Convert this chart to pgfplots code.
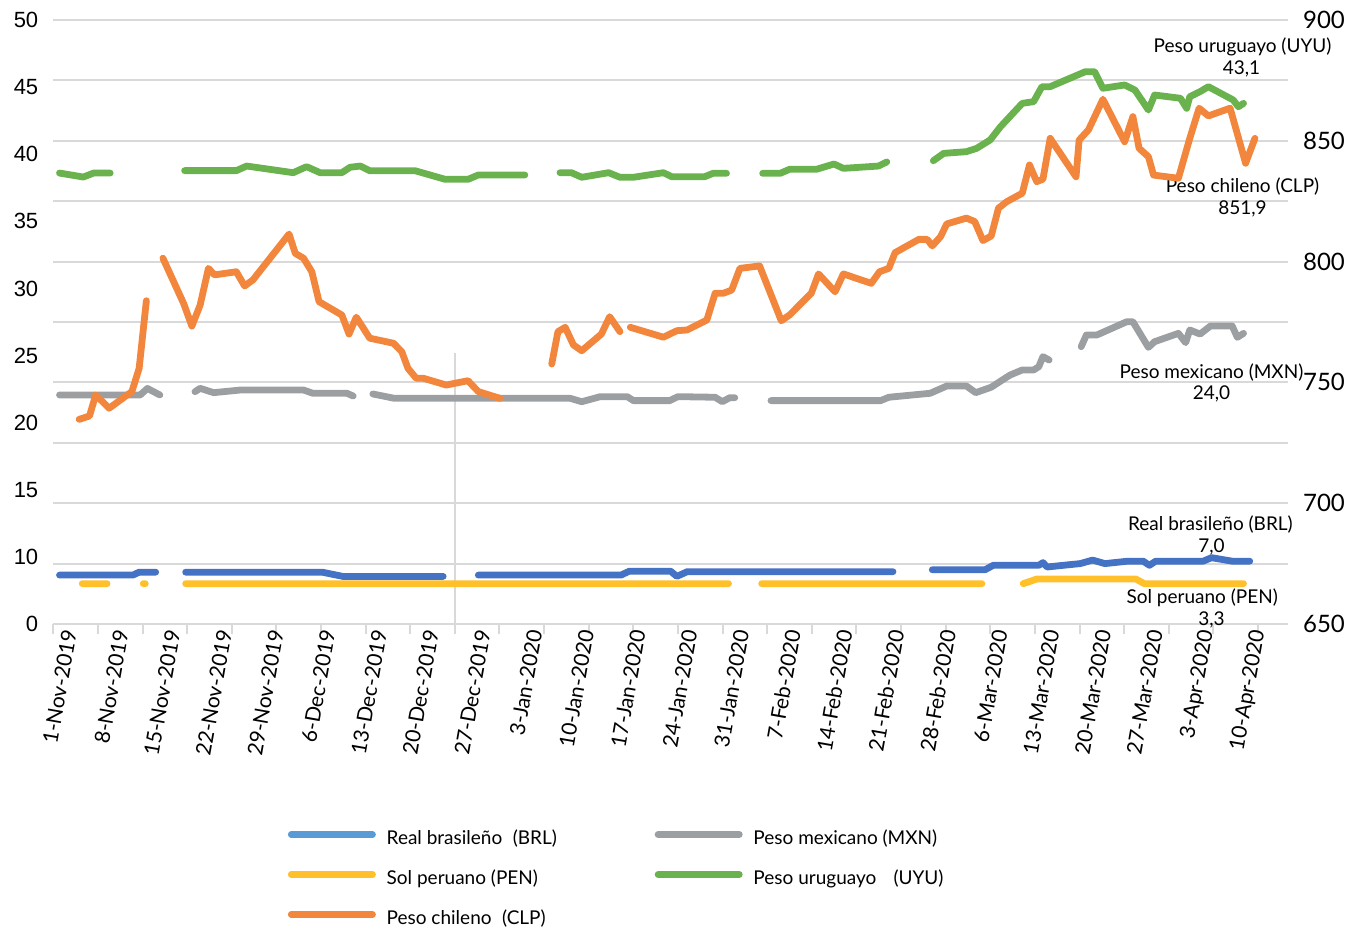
\documentclass[border=0pt]{standalone}
\usepackage{fontspec}
\setmainfont{Lato}
\newfontfamily\arialfont{Liberation Sans}
\usepackage{pgfplots}
\pgfplotsset{compat=1.18}
\definecolor{cBRL}{HTML}{4472C4}
\definecolor{cBRLleg}{HTML}{5B9BD5}
\definecolor{cPEN}{HTML}{FFC02A}
\definecolor{cCLP}{HTML}{F2863C}
\definecolor{cMXN}{HTML}{9C9FA2}
\definecolor{cUYU}{HTML}{6AB24E}
\definecolor{cGrid}{HTML}{D9D9D9}
\begin{document}
\begin{tikzpicture}
\path[use as bounding box] (0,0) rectangle (674.5pt,465.5pt);
\begin{axis}[
  at={(26.65pt,153.5pt)}, anchor=south west,
  width=617.35pt, height=302pt, scale only axis,
  xmin=-0.5, xmax=118.9, ymin=0, ymax=50,
  clip mode=individual,
  axis x line*=bottom, axis y line*=left,
  x axis line style={draw=cGrid, line width=1pt, -},
  y axis line style={draw=none},
  xtick={1,6,...,116},
  xticklabels={1-Nov-2019,8-Nov-2019,15-Nov-2019,22-Nov-2019,29-Nov-2019,6-Dec-2019,13-Dec-2019,20-Dec-2019,27-Dec-2019,3-Jan-2020,10-Jan-2020,17-Jan-2020,24-Jan-2020,31-Jan-2020,7-Feb-2020,14-Feb-2020,21-Feb-2020,28-Feb-2020,6-Mar-2020,13-Mar-2020,20-Mar-2020,27-Mar-2020,3-Apr-2020,10-Apr-2020},
  minor xtick={-0.5,3.815,8.130,12.444,16.759,21.074,25.389,29.704,34.019,38.333,42.648,46.963,51.278,55.593,59.907,64.222,68.537,72.852,77.167,81.481,85.796,90.111,94.426,98.741,103.056,107.370,111.685,116.0},
  major tick length=0pt, minor tick length=5pt, tick align=outside,
  every minor tick/.append style={draw=cGrid, line width=1pt},
  ytick={0,5.5556,11.1111,16.6667,22.2222,27.7778,33.3333,38.8889,44.4444,50},
  yticklabels={0,10,15,20,25,30,35,40,45,50},
  ytick style={draw=none},
  extra y ticks={0,5,10,15,20,25,30,35,40,45,50},
  extra y tick labels={},
  extra y tick style={grid=major},
  major grid style={draw=cGrid, line width=1pt},
  xticklabel style={font=\fontsize{10.5}{12}\selectfont, rotate=80, anchor=east, inner sep=1pt, yshift=-1pt, xshift=-2pt},
  yticklabel style={font=\arialfont\fontsize{11}{13}\selectfont, xshift=-4pt},
  unbounded coords=jump,
  every axis plot/.append style={line width=3.4pt, line cap=round, line join=round},
  legend columns=2,
  legend cell align=left,
  legend image code/.code={\draw[#1] (0pt,2.5pt) -- (40.6pt,2.5pt);},
  legend style={at={(0.19,-0.342)}, anchor=north west, draw=none, fill=none,
    inner sep=0pt, outer sep=0pt, row sep=11pt,
    font=\fontsize{9.5}{11}\selectfont,
    nodes={inner sep=0pt, text height=7pt, text depth=2pt},
    /tikz/every odd column/.append style={column sep=5.4pt},
    /tikz/every even column/.append style={column sep=4pt}},
]
% vertical reference line
\addplot[cGrid, line width=1pt, line cap=butt, forget plot] coordinates {(38.333,0) (38.333,22.4)};
% Sol peruano (PEN)
\addplot[cPEN, forget plot] coordinates {
(2.3,3.34) (4.7,3.34) (6,nan) (8.2,3.34) (8.4,3.34) (10,nan)
(12.3,3.34) (64.8,3.34) (66,nan) (68.0,3.34) (89.3,3.34) (91,nan)
(93.3,3.34) (94.6,3.72) (104.2,3.72) (105.0,3.34) (114.6,3.34)};
% Real brasileno (BRL)
\addplot[cBRL, forget plot] coordinates {
(0.1,4.05) (7.2,4.05) (7.8,4.29) (9.4,4.29) (11,nan)
(12.3,4.29) (25.5,4.29) (27.5,3.94) (37.2,3.94) (39,nan)
(40.6,4.05) (54.4,4.05) (55.2,4.37) (59.2,4.37) (59.8,3.94) (60.8,4.33) (80.7,4.33) (82,nan)
(84.5,4.49) (89.6,4.49) (90.4,4.86) (94.8,4.86) (95.2,5.08) (95.6,4.72) (98.8,5.0) (100.0,5.29)
(101.2,5.0) (103.4,5.2) (104.9,5.2) (105.5,4.86) (106.1,5.2) (110.7,5.2) (111.5,5.49) (113.5,5.2) (115.2,5.2)};
% Peso mexicano (MXN)
\addplot[cMXN, forget plot] coordinates {
(0.1,18.96) (4.5,18.96) (7.9,18.96) (8.6,19.5) (9.8,18.96) (11,nan)
(13.2,19.23) (13.7,19.51) (15.0,19.15) (17.6,19.37) (23.7,19.37) (24.6,19.1) (27.9,19.1) (28.5,18.87) (29.5,nan)
(30.4,19.04) (32.5,18.68) (49.5,18.68) (50.6,18.4) (52.4,18.82) (55.0,18.82) (55.6,18.49) (59.1,18.49)
(59.9,18.82) (63.5,18.77) (64.2,18.4) (64.9,18.73) (65.4,18.73) (67,nan)
(68.9,18.49) (79.5,18.49) (80.3,18.77) (84.3,19.1) (85.9,19.7) (87.8,19.7) (88.7,19.15) (90.2,19.6)
(92.0,20.6) (93.2,21.03) (94.3,21.03) (94.8,21.3) (95.2,22.13) (95.8,21.85) (97,nan)
(98.9,22.96) (99.4,23.92) (100.4,23.92) (103.3,25.02) (103.9,25.02) (105.4,22.9) (106.0,23.37)
(108.3,24.06) (109.0,23.29) (109.4,24.34) (110.4,24.0) (111.4,24.67) (113.5,24.67) (114.0,23.73) (114.6,24.06)};
% Peso uruguayo (UYU)
\addplot[cUYU, forget plot] coordinates {
(0.1,37.33) (2.4,37.0) (3.4,37.33) (5.0,37.33) (8,nan)
(12.2,37.53) (17.2,37.53) (18.2,37.91) (22.7,37.36) (24.0,37.86) (25.3,37.36) (27.4,37.36) (28.2,37.81)
(29.2,37.91) (30.1,37.52) (34.5,37.52) (37.4,36.81) (39.6,36.81) (40.6,37.17) (45.1,37.17) (46.5,nan)
(48.5,37.36) (49.6,37.36) (50.6,36.98) (53.2,37.36) (54.3,36.98) (55.6,36.98) (58.5,37.36) (59.3,37.03)
(62.5,37.03) (63.3,37.31) (64.6,37.31) (66,nan)
(68.1,37.31) (69.8,37.31) (70.7,37.64) (73.3,37.64) (75.0,38.08) (75.9,37.72) (79.3,37.91) (80.1,38.25) (82,nan)
(84.6,38.35) (85.6,38.96) (87.8,39.1) (88.8,39.38) (90.1,40.07) (91.1,41.17) (93.2,43.1) (94.3,43.24)
(95.1,44.48) (95.9,44.48) (99.3,45.72) (100.2,45.72) (101.0,44.35) (103.1,44.62) (104.1,44.2) (105.4,42.55)
(106.0,43.79) (108.5,43.52) (109.1,42.69) (109.4,43.65) (110.4,44.07) (111.2,44.48) (113.6,43.38) (114.1,42.82) (114.6,43.1)};
% legend
\addlegendimage{cBRLleg, line width=3.4pt, line cap=round}
\addlegendentry{\makebox[130pt][l]{Real brasileño\hspace{0.55em}(BRL)}}
\addlegendimage{cMXN, line width=3.4pt, line cap=round}
\addlegendentry{Peso mexicano (MXN)}
\addlegendimage{cPEN, line width=3.4pt, line cap=round}
\addlegendentry{\makebox[130pt][l]{Sol peruano (PEN)}}
\addlegendimage{cUYU, line width=3.4pt, line cap=round}
\addlegendentry{Peso uruguayo\hspace{0.9em}(UYU)}
\addlegendimage{cCLP, line width=3.4pt, line cap=round}
\addlegendentry{\makebox[130pt][l]{Peso chileno\hspace{0.55em}(CLP)}}
% annotations
\begin{scope}[font=\fontsize{9.5}{11}\selectfont]
\node at (axis cs:114.5,47.74) {Peso uruguayo (UYU)};
\node at (axis cs:114.4,45.92) {43,1};
\node at (axis cs:114.5,36.2) {Peso chileno (CLP)};
\node at (axis cs:114.5,34.35) {851,9};
\node at (axis cs:111.5,20.8) {Peso mexicano (MXN)};
\node at (axis cs:111.5,19.04) {24,0};
\node at (axis cs:111.4,8.2) {Real brasileño (BRL)};
\node at (axis cs:111.5,6.37) {7,0};
\node at (axis cs:110.6,2.15) {Sol peruano (PEN)};
\node at (axis cs:111.5,0.35) {3,3};
\end{scope}
\end{axis}
\begin{axis}[
  at={(26.65pt,153.5pt)}, anchor=south west,
  width=617.35pt, height=302pt, scale only axis,
  xmin=-0.5, xmax=118.9, ymin=650, ymax=900,
  clip mode=individual,
  hide x axis, axis y line*=right, y axis line style={draw=none},
  ytick={650,700,750,800,850,900},
  yticklabels={650,700,750,800,850,900},
  ytick style={draw=none}, major tick length=0pt,
  yticklabel style={font=\fontsize{12}{14}\selectfont, xshift=4pt},
  unbounded coords=jump,
  every axis plot/.append style={line width=3.4pt, line cap=round, line join=round},
]
% Peso chileno (CLP)
\addplot[cCLP] coordinates {
(2.0,734.7) (3.0,736.1) (3.6,744.8) (4.9,739.3) (7.1,746.2) (7.8,755.8) (8.5,783.8) (9.3,nan)
(10.1,801.4) (12.1,782.7) (12.9,773.3) (13.7,782.0) (14.5,797.2) (15.1,794.5) (17.2,795.8) (18.0,789.9)
(18.8,792.4) (22.3,811.4) (22.9,803.4) (23.7,801.4) (24.5,795.8) (25.2,783.4) (27.4,777.9) (28.1,770.0)
(28.8,777.0) (30.1,768.3) (32.4,766.2) (33.2,762.7) (33.8,755.8) (34.6,751.7) (35.3,751.7) (37.5,748.9)
(39.6,750.7) (40.6,746.2) (42.7,743.4) (45,nan)
(47.7,757.6) (48.3,771.0) (49.0,772.8) (49.8,765.5) (50.6,763.1) (52.5,770.0) (53.3,777.2) (54.3,771.0) (54.8,nan)
(55.3,772.8) (58.5,768.7) (59.8,771.4) (60.8,771.7) (62.7,775.8) (63.5,786.9) (64.3,786.9) (65.1,788.2)
(65.9,797.2) (67.8,798.2) (69.9,775.5) (70.7,777.9) (72.8,786.9) (73.5,794.9) (75.1,787.5) (75.9,794.9)
(78.6,791.0) (79.4,795.8) (80.3,797.2) (80.9,803.7) (83.2,809.2) (84.0,809.2) (84.5,806.5) (85.3,810.3)
(85.9,815.6) (87.8,818.0) (88.6,816.6) (89.4,808.7) (90.2,810.6) (90.9,822.1) (91.7,824.8) (93.2,828.3)
(93.9,840.0) (94.6,833.1) (95.2,834.1) (95.9,851.0) (98.4,835.1) (98.7,850.3) (99.6,854.5) (101.0,867.2)
(103.1,849.6) (103.9,860.0) (104.5,846.9) (105.4,843.4) (105.9,835.8) (108.3,834.5) (109.4,851.0) (110.3,863.5)
(111.2,860.3) (113.3,863.5) (114.8,840.7) (115.7,851.0)};
\end{axis}
\end{tikzpicture}
\end{document}
